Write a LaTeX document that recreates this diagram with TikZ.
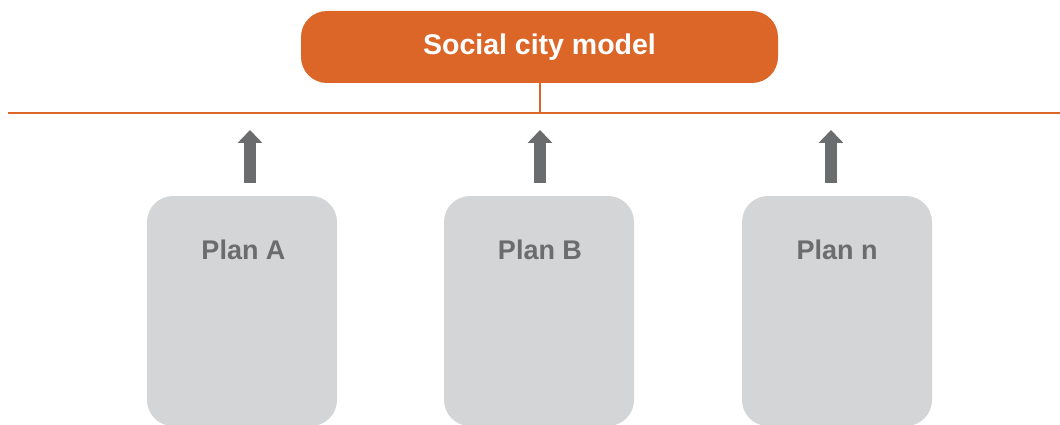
\documentclass[tikz,border=0pt]{standalone}
\usepackage{fontspec}
\setmainfont{Liberation Sans}
\usetikzlibrary{arrows.meta}
\definecolor{orng}{HTML}{DC6627}
\definecolor{boxgray}{HTML}{D4D5D7}
\definecolor{txtgray}{HTML}{6B6C6E}
\tikzset{
  titlebox/.style={fill=orng, rounded corners=26pt, inner sep=0pt, minimum width=477pt, minimum height=72pt},
  planbox/.style={fill=boxgray, rounded corners=26pt, inner sep=0pt, minimum width=190pt, minimum height=230pt},
  plantext/.style={anchor=base, text=txtgray, font=\fontsize{27}{30}\selectfont\bfseries, inner sep=0pt},
  titletext/.style={anchor=base, text=white, font=\fontsize{28.5}{32}\selectfont\bfseries, inner sep=0pt},
  orline/.style={draw=orng, line width=2pt},
  uparrow/.style={draw=txtgray, line width=12pt, -{Triangle[width=24pt,length=13pt]}}
}
\begin{document}
\begin{tikzpicture}[x=1pt,y=-1pt]
\useasboundingbox (0,0) rectangle (1060,425);
% title
\node[titlebox] (title) at (539.5,47) {};
\node[titletext] (titlet) at (539.5,55) {Social city model};
% bus line
\coordinate (busL) at (8,113);
\coordinate (busR) at (1062,113);
\coordinate (busM) at (540,113);
\draw[orline] (busL) -- (busR);
\draw[orline] (title.south -| busM) -- (busM);
% plan boxes
\node[planbox] (pa) at (242,311) {};
\node[planbox] (pb) at (539,311) {};
\node[planbox] (pn) at (837,311) {};
\node[plantext] (pat) at (243.5,259) {Plan A};
\node[plantext] (pbt) at (540,259) {Plan B};
\node[plantext] (pnt) at (837,259) {Plan n};
% arrows
\coordinate (aA0) at (250,183); \coordinate (aA1) at (250,130);
\coordinate (aB0) at (540,183); \coordinate (aB1) at (540,130);
\coordinate (aN0) at (831,183); \coordinate (aN1) at (831,130);
\draw[uparrow] (aA0) -- (aA1);
\draw[uparrow] (aB0) -- (aB1);
\draw[uparrow] (aN0) -- (aN1);
\end{tikzpicture}
\end{document}
